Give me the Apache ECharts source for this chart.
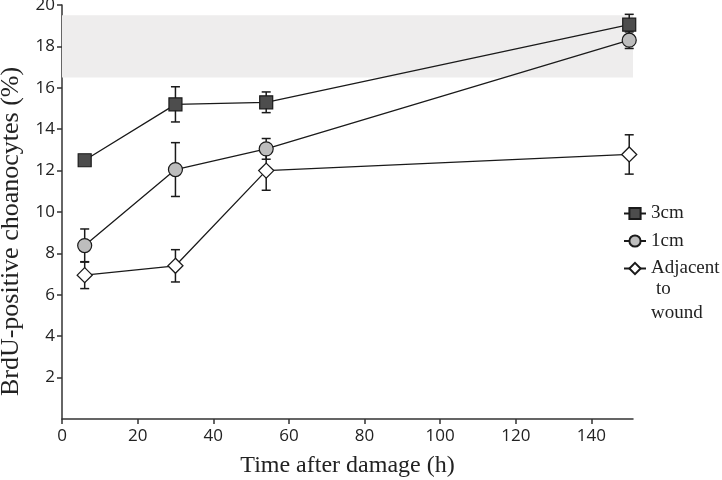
<!DOCTYPE html>
<html>
<head>
<meta charset="utf-8">
<script src="https://cdn.jsdelivr.net/npm/echarts@6/dist/echarts.min.js"></script>
<style>html,body{margin:0;padding:0;background:#fff}#c{width:722px;height:480px}</style>
</head>
<body>
<div id="c"></div>
<script>
var times = [6, 30, 54, 150];
var seriesNames = ['3cm', '1cm', 'Adjacent to wound'];
var cm3 = [12.5, 15.2, 15.3, 19.05];
var cm3Err = [0.2, 0.85, 0.5, 0.5];
var cm1 = [8.38, 12.05, 13.05, 18.3];
var cm1Err = [0.8, 1.3, 0.5, 0.4];
var adj = [6.95, 7.4, 12.0, 12.78];
var adjErr = [0.65, 0.78, 0.95, 0.95];
var xTicks = [0, 20, 40, 60, 80, 100, 120, 140];
var yTicks = [2, 4, 6, 8, 10, 12, 14, 16, 18, 20];
var band = [16.5, 19.5];

function pts(v){ return times.map(function(t,i){ return [t, v[i]]; }); }
function errs(v,e){ return times.map(function(t,i){ return [t, v[i]-e[i], v[i]+e[i]]; }); }

function renderErr(params, api){
  var x = api.value(0), lo = api.value(1), hi = api.value(2);
  var p1 = api.coord([x, hi]), p2 = api.coord([x, lo]);
  var w = 4.5, st = {stroke:'#1a1a1a', lineWidth:1.5};
  return {type:'group', children:[
    {type:'line', shape:{x1:p1[0],y1:p1[1],x2:p2[0],y2:p2[1]}, style:st},
    {type:'line', shape:{x1:p1[0]-w,y1:p1[1],x2:p1[0]+w,y2:p1[1]}, style:st},
    {type:'line', shape:{x1:p2[0]-w,y1:p2[1],x2:p2[0]+w,y2:p2[1]}, style:st}
  ]};
}

var serif = '"Liberation Serif", "Times New Roman", serif';
var sans = '"Open Sans", "DejaVu Sans", sans-serif';
var lineStyle = {color:'#1a1a1a', width:1.3};

var chart = echarts.init(document.getElementById('c'));
chart.setOption({
  animation:false,
  grid:{left:62, right:89, top:5, bottom:61, containLabel:false, outerBoundsMode:'none'},
  xAxis:{
    type:'value', min:0, max:151, interval:20,
    name:'Time after damage (h)', nameLocation:'middle', nameGap:35,
    nameTextStyle:{fontFamily:serif, fontSize:24, color:'#222'},
    axisLine:{lineStyle:{color:'#333', width:1.5}},
    axisTick:{length:5, lineStyle:{color:'#333', width:1.5}, customValues:xTicks},
    axisLabel:{fontFamily:sans, fontSize:17, color:'#222', margin:9, customValues:xTicks},
    splitLine:{show:false}
  },
  yAxis:{
    type:'value', min:0, max:20, interval:2,
    name:'BrdU-positive choanocytes (%)', nameLocation:'middle', nameGap:37,
    nameTextStyle:{fontFamily:serif, fontSize:26, color:'#222', padding:[0, 39, 0, 0]},
    axisLine:{show:true, lineStyle:{color:'#333', width:1.5}},
    axisTick:{show:true, length:5, lineStyle:{color:'#333', width:1.5}, customValues:yTicks},
    axisLabel:{fontFamily:sans, fontSize:17, color:'#222', margin:7, customValues:yTicks},
    splitLine:{show:false}
  },
  legend:{
    orient:'vertical', left:618, top:199, itemWidth:22, itemHeight:14, itemGap:8.5,
    data:seriesNames,
    formatter:function(n){ return n === 'Adjacent to wound' ? 'Adjacent' : n; },
    textStyle:{fontFamily:serif, fontSize:19, lineHeight:18, color:'#222'}
  },
  graphic:[
    {type:'text', left:656, top:280, style:{text:'to', font:'19px ' + serif, fill:'#222'}},
    {type:'text', left:651, top:304, style:{text:'wound', font:'19px ' + serif, fill:'#222'}}
  ],
  series:[
    {type:'custom', name:'err3', renderItem:renderErr, data:errs(cm3,cm3Err), encode:{x:0,y:[1,2]}, z:1, silent:true,
     markArea:{silent:true, itemStyle:{color:'#eeeded'}, data:[[{yAxis:band[0]},{yAxis:band[1]}]]}},
    {type:'custom', name:'err1', renderItem:renderErr, data:errs(cm1,cm1Err), encode:{x:0,y:[1,2]}, z:1, silent:true},
    {type:'custom', name:'errA', renderItem:renderErr, data:errs(adj,adjErr), encode:{x:0,y:[1,2]}, z:1, silent:true},
    {type:'line', name:seriesNames[0], data:pts(cm3), symbol:'rect', symbolSize:13, z:3,
     lineStyle:lineStyle, itemStyle:{color:'#4d4d4d', borderColor:'#1a1a1a', borderWidth:1.2}},
    {type:'line', name:seriesNames[1], data:pts(cm1), symbol:'circle', symbolSize:14, z:3,
     lineStyle:lineStyle, itemStyle:{color:'#bdbdbd', borderColor:'#1a1a1a', borderWidth:1.2}},
    {type:'line', name:seriesNames[2], data:pts(adj), symbol:'diamond', symbolSize:[15,15], z:3,
     lineStyle:lineStyle, itemStyle:{color:'#ffffff', borderColor:'#1a1a1a', borderWidth:1.3}}
  ]
});
</script>
</body>
</html>
